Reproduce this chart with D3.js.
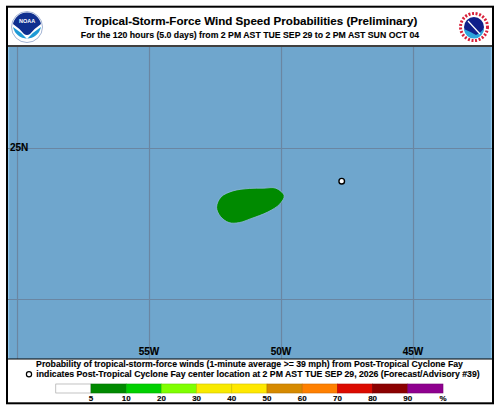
<!DOCTYPE html>
<html>
<head>
<meta charset="utf-8">
<script src="https://cdn.jsdelivr.net/npm/d3@7"></script>
<style>
  html, body { margin: 0; padding: 0; background: #fff; }
  text { font-family: "Liberation Sans", Arial, sans-serif; font-weight: bold; fill: #000; stroke: #000; stroke-width: 0.12px; }
</style>
</head>
<body>
<svg id="chart" width="500" height="411" style="display:block"></svg>
<script>
const TITLE = "Tropical-Storm-Force Wind Speed Probabilities (Preliminary)";
const SUBTITLE = "For the 120 hours (5.0 days) from 2 PM AST TUE SEP 29 to 2 PM AST SUN OCT 04";
const NOTE_1 = "Probability of tropical-storm-force winds (1-minute average >= 39 mph) from Post-Tropical Cyclone Fay";
const NOTE_2 = "indicates Post-Tropical Cyclone Fay center location at 2 PM AST TUE SEP 29, 2026 (Forecast/Advisory #39)";

const lonTicks = [60, 55, 50, 45];
const lonLabels = ["", "55W", "50W", "45W"];
const latTicks = [25, 20];
const latLabels = ["25N", ""];

// 5-10% swath outline
const swathLon = [52.44, 52.27, 51.82, 51.20, 50.65, 50.20, 49.88, 50.05, 50.50, 51.14, 51.58, 51.97, 52.30];
const swathLat = [23.04, 23.38, 23.58, 23.66, 23.67, 23.67, 23.42, 23.14, 22.88, 22.66, 22.53, 22.53, 22.74];

const centerLon = 47.70;
const centerLat = 23.9;

const legendLabels = ["5", "10", "20", "30", "40", "50", "60", "70", "80", "90", "%"];
const legendColors = ["#ffffff", "#008a00", "#00d000", "#7fff00", "#f8ea00", "#ffe800",
                      "#d68a00", "#ff8000", "#dc0a00", "#8b0000", "#8f008f"];

const svg = d3.select("#chart");

const x = d3.scaleLinear().domain([60, 45]).range([17, 413]);
const y = d3.scaleLinear().domain([25, 20]).range([148, 299]);

// map background
svg.append("rect").attr("x", 8).attr("y", 47).attr("width", 484).attr("height", 312)
  .attr("fill", "#6fa6cd");
svg.append("rect").attr("x", 8).attr("y", 47).attr("width", 1.2).attr("height", 312)
  .attr("fill", "#8fc6ea");
svg.append("rect").attr("x", 490.8).attr("y", 47).attr("width", 1.2).attr("height", 312)
  .attr("fill", "#8fc6ea");

const grid = svg.append("g").attr("stroke", "#6a86a2").attr("stroke-width", 1.2);
grid.selectAll("line.lon").data(lonTicks).join("line").attr("class", "lon")
  .attr("x1", d => x(d) + 0.5).attr("x2", d => x(d) + 0.5).attr("y1", 47).attr("y2", 359);
grid.selectAll("line.lat").data(latTicks).join("line").attr("class", "lat")
  .attr("y1", d => y(d) + 0.5).attr("y2", d => y(d) + 0.5).attr("x1", 8).attr("x2", 492);

const swath = d3.line().curve(d3.curveCatmullRomClosed.alpha(0.5));
svg.append("path")
  .attr("d", swath(swathLon.map((d, i) => [x(d), y(swathLat[i])])))
  .attr("fill", "#008a00").attr("stroke", "#8fb8dc").attr("stroke-width", 0.8);

svg.append("circle").attr("cx", x(centerLon)).attr("cy", y(centerLat)).attr("r", 2.8)
  .attr("fill", "#fff").attr("stroke", "#000").attr("stroke-width", 1.4);

svg.selectAll("text.lon").data(lonTicks).join("text").attr("class", "lon")
  .attr("x", d => x(d)).attr("y", 355).attr("text-anchor", "middle").attr("font-size", 10)
  .text((d, i) => lonLabels[i]);
svg.selectAll("text.lat").data(latTicks).join("text").attr("class", "lat")
  .attr("x", 10).attr("y", d => y(d) + 3).attr("font-size", 10)
  .text((d, i) => latLabels[i]);

// header
svg.append("text").attr("x", 250.5).attr("y", 25).attr("text-anchor", "middle")
  .attr("font-size", 11.6).text(TITLE);
svg.append("text").attr("x", 250).attr("y", 38).attr("text-anchor", "middle")
  .attr("font-size", 8.72).text(SUBTITLE);

// footer
svg.append("text").attr("x", 249.5).attr("y", 367).attr("text-anchor", "middle")
  .attr("font-size", 8.72).text(NOTE_1);
svg.append("text").attr("x", 258).attr("y", 377).attr("text-anchor", "middle")
  .attr("font-size", 8.72).text(NOTE_2);
svg.append("circle").attr("cx", 29).attr("cy", 374.3).attr("r", 2.6)
  .attr("fill", "none").attr("stroke", "#000").attr("stroke-width", 1.2);

// colour bar: each box ends at its label
const legendX = d3.scalePoint().domain(legendLabels).range([91, 443]);
const step = legendX.step();
svg.selectAll("rect.key").data(legendLabels).join("rect").attr("class", "key")
  .attr("x", d => legendX(d) - step).attr("y", 384).attr("width", step).attr("height", 9)
  .attr("fill", (d, i) => legendColors[i])
  .attr("stroke", (d, i) => i === 0 ? "#999" : d3.color(legendColors[i]).darker(0.6))
  .attr("stroke-width", 0.6);
svg.selectAll("text.key").data(legendLabels).join("text").attr("class", "key")
  .attr("x", d => legendX(d)).attr("y", 401).attr("text-anchor", "middle")
  .attr("font-size", 8).text(d => d);

// frame lines on top
svg.append("rect").attr("x", 7).attr("y", 6.7).attr("width", 486).attr("height", 396.6)
  .attr("fill", "none").attr("stroke", "#000").attr("stroke-width", 2);
svg.append("line").attr("x1", 7).attr("x2", 493).attr("y1", 46).attr("y2", 46)
  .attr("stroke", "#000").attr("stroke-width", 1.5);
svg.append("line").attr("x1", 7).attr("x2", 493).attr("y1", 359).attr("y2", 359)
  .attr("stroke", "#000").attr("stroke-width", 1);

// NOAA logo
const noaa = svg.append("g").attr("transform", "translate(27,27)");
noaa.append("circle").attr("r", 15.5).attr("fill", "#fff").attr("stroke", "#8aa0c8").attr("stroke-width", 0.8);
noaa.append("path").attr("d", "M-14,-3 A14.3,14.3 0 0 1 14,-3 Q8,1 3,7 Q0,9 -3,7 Q-8,1 -14,-3Z").attr("fill", "#0f2f8f");
noaa.append("path").attr("d", "M-14,0 Q-6,5 0,12 Q6,5 14,0 A14.3,14.3 0 0 1 -14,0Z").attr("fill", "#1e9ad6");
noaa.append("text").attr("y", -4).attr("text-anchor", "middle").attr("font-size", 5.5)
  .style("fill", "#fff").style("stroke", "none").text("NOAA");

// NWS logo
const nws = svg.append("g").attr("transform", "translate(474,27)");
nws.append("circle").attr("r", 13.5).attr("fill", "none").attr("stroke", "#d8203a")
  .attr("stroke-width", 3).attr("stroke-dasharray", "2 1.6");
nws.append("circle").attr("r", 10.5).attr("fill", "#fff");
nws.append("circle").attr("r", 10).attr("fill", "#10208a");
nws.append("path").attr("d", "M-10,2 Q-3,5 2,8 Q7,6 10,1 A10,10 0 0 1 -10,2Z").attr("fill", "#2fa6dc");
nws.append("path").attr("d", "M-6,-6 L6,7").attr("stroke", "#fff").attr("stroke-width", 1.2);
</script>
</body>
</html>
